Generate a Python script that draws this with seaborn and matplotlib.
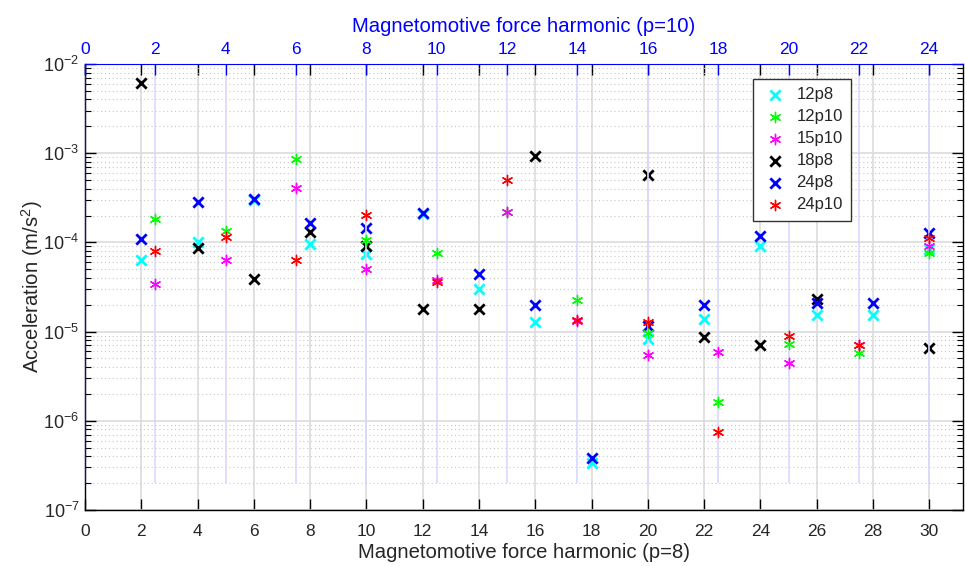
import numpy as np
import matplotlib
matplotlib.use("Agg")
import matplotlib.pyplot as plt
import seaborn as sns

# ---------------- data ----------------
harm_p8 = [2, 4, 6, 8, 10, 12, 14, 16, 18, 20, 22, 24, 26, 28, 30]
harm_p10 = [2, 4, 6, 8, 10, 12, 14, 16, 18, 20, 22, 24]

acc_12p8 = [6.4e-5, 1.0e-4, 3.0e-4, 9.7e-5, 7.5e-5, 2.1e-4, 3.0e-5, 1.27e-5,
            3.35e-7, 8.3e-6, 1.37e-5, 9.2e-5, 1.55e-5, 1.53e-5, 8.4e-5]
acc_18p8 = [6.2e-3, 8.7e-5, 3.9e-5, 1.32e-4, 9.0e-5, 1.77e-5, 1.8e-5, 9.3e-4,
            np.nan, 5.7e-4, 8.7e-6, 7.0e-6, 2.33e-5, np.nan, 6.6e-6]
acc_24p8 = [1.1e-4, 2.86e-4, 3.1e-4, 1.66e-4, 1.46e-4, 2.15e-4, 4.4e-5, 2.0e-5,
            3.8e-7, 1.15e-5, 1.98e-5, 1.18e-4, 2.1e-5, 2.1e-5, 1.28e-4]

acc_12p10 = [1.85e-4, 1.34e-4, 8.7e-4, 1.05e-4, 7.5e-5, 2.2e-4, 2.25e-5, 9.5e-6,
             1.6e-6, 7.15e-6, 5.7e-6, 7.6e-5]
acc_15p10 = [3.4e-5, 6.3e-5, 4.1e-4, 5.0e-5, 3.8e-5, 2.2e-4, 1.3e-5, 5.4e-6,
             5.96e-6, 4.45e-6, 7.0e-6, 9.1e-5]
acc_24p10 = [7.9e-5, 1.16e-4, 6.4e-5, 2.0e-4, 3.6e-5, 5.0e-4, 1.34e-5, 1.27e-5,
             7.4e-7, 8.9e-6, 7.0e-6, 1.13e-4]

legend_order = ["12p8", "12p10", "15p10", "18p8", "24p8", "24p10"]

# ---------------- style ----------------
sns.set_style("white")
plt.rcParams["font.family"] = ["Liberation Sans", "DejaVu Sans"]
plt.rcParams["mathtext.fontset"] = "custom"
plt.rcParams["mathtext.rm"] = "Liberation Sans"
plt.rcParams["mathtext.it"] = "Liberation Sans:italic"

W, H = 965, 566
fig = plt.figure(figsize=(W / 100, H / 100), dpi=100)
fig.patch.set_facecolor("white")

left_px, right_px, top_px, bot_px, bot2_px = 85, 963, 64, 510, 483
ax = fig.add_axes([left_px / W, 1 - bot_px / H, (right_px - left_px) / W,
                   (bot_px - top_px) / H])
ax2 = fig.add_axes([left_px / W, 1 - bot2_px / H, (right_px - left_px) / W,
                    (bot2_px - top_px) / H])

xmax = 31.2
ax.set_yscale("log")
ax.set_xlim(0, xmax)
ax.set_ylim(1e-7, 1e-2)
ax2.set_yscale("log")
ax2.set_xlim(0, xmax * 0.8)
ax2.set_ylim(2e-7, 1e-2)

star = (6, 2, 0)
handles = {}

def scat(a, x, y, marker, color, label, lw, s):
    sns.scatterplot(x=x, y=y, ax=a, marker=marker, color=color, s=s,
                    linewidth=lw, label=label, legend=True, zorder=3)

scat(ax, harm_p8, acc_12p8, "x", "#00ffff", "12p8", 2.0, 55)
scat(ax, harm_p8, acc_18p8, "x", "black", "18p8", 2.0, 55)
scat(ax, harm_p8, acc_24p8, "x", "#0000ff", "24p8", 2.0, 55)
scat(ax2, harm_p10, acc_12p10, star, "#00ff00", "12p10", 1.0, 55)
scat(ax2, harm_p10, acc_15p10, star, "#ff00ff", "15p10", 1.0, 55)
scat(ax2, harm_p10, acc_24p10, star, "#ff0000", "24p10", 1.0, 55)

for a in (ax, ax2):
    h, l = a.get_legend_handles_labels()
    for hh, ll in zip(h, l):
        handles[ll] = hh
    if a.get_legend() is not None:
        a.get_legend().remove()

# ---------------- main axes ----------------
ax.set_axisbelow(True)
ax.set_xticks(range(0, 31, 2))
ax.grid(axis="x", which="major", color="#dcdcdc", lw=1.2)
ax.grid(axis="y", which="major", color="#dcdcdc", lw=1.2)
ax.grid(axis="y", which="minor", color="#c8c8c8", lw=0.8, linestyle=(0, (1, 2.5)))
ax.xaxis.set_ticks_position("both")
ax.yaxis.set_ticks_position("both")
ax.tick_params(axis="x", which="major", direction="in", length=8, width=1,
               color="black", labelsize=12.5, pad=10, top=True, labeltop=False)
ax.tick_params(axis="y", which="major", direction="in", length=8, width=1,
               color="black", labelsize=13, pad=4, right=True)
ax.tick_params(axis="y", which="minor", direction="in", length=4, width=0.8,
               color="black", right=True)
ax.tick_params(axis="x", which="minor", bottom=False, top=False)
for side in ("left", "bottom", "right"):
    ax.spines[side].set_color("black")
    ax.spines[side].set_linewidth(1.0)
ax.spines["top"].set_visible(False)
ax.set_xlabel("Magnetomotive force harmonic (p=8)", fontsize=14.6, labelpad=3)
ax.set_ylabel(r"Acceleration (m/s$^2$)", fontsize=14.6, labelpad=-1)

# ---------------- top axes ----------------
ax2.patch.set_visible(False)
ax2.set_xticks(range(0, 25, 2))
ax2.xaxis.tick_top()
ax2.xaxis.set_label_position("top")
ax2.grid(axis="x", which="major", color="#d8d8ff", lw=1.2)
ax2.grid(axis="y", which="both", visible=False)
ax2.tick_params(axis="x", which="major", direction="in", length=8, width=1,
                color="#0000ff", labelcolor="#0000ff", labelsize=12.5, pad=5)
ax2.tick_params(axis="x", which="minor", top=False, bottom=False)
ax2.tick_params(axis="y", which="both", left=False, right=False,
                labelleft=False, labelright=False)
ax2.spines["top"].set_color("#0000ff")
ax2.spines["left"].set_color("#0000ff")
ax2.spines["bottom"].set_visible(False)
ax2.spines["right"].set_visible(False)
ax2.set_xlabel("Magnetomotive force harmonic (p=10)", fontsize=14.6,
               color="#0000ff", labelpad=7)

leg = ax2.legend([handles[k] for k in legend_order], legend_order,
                 loc="upper left", bbox_to_anchor=(0.761, 1 - (79 - top_px) / (bot2_px - top_px)),
                 fontsize=12, frameon=True, fancybox=False, edgecolor="#333333",
                 framealpha=1, labelspacing=0.42, handletextpad=0.5,
                 borderpad=0.5, handlelength=1.6, borderaxespad=0)
leg.get_frame().set_linewidth(1.0)

fig.savefig("out.png", dpi=100, facecolor="white")
